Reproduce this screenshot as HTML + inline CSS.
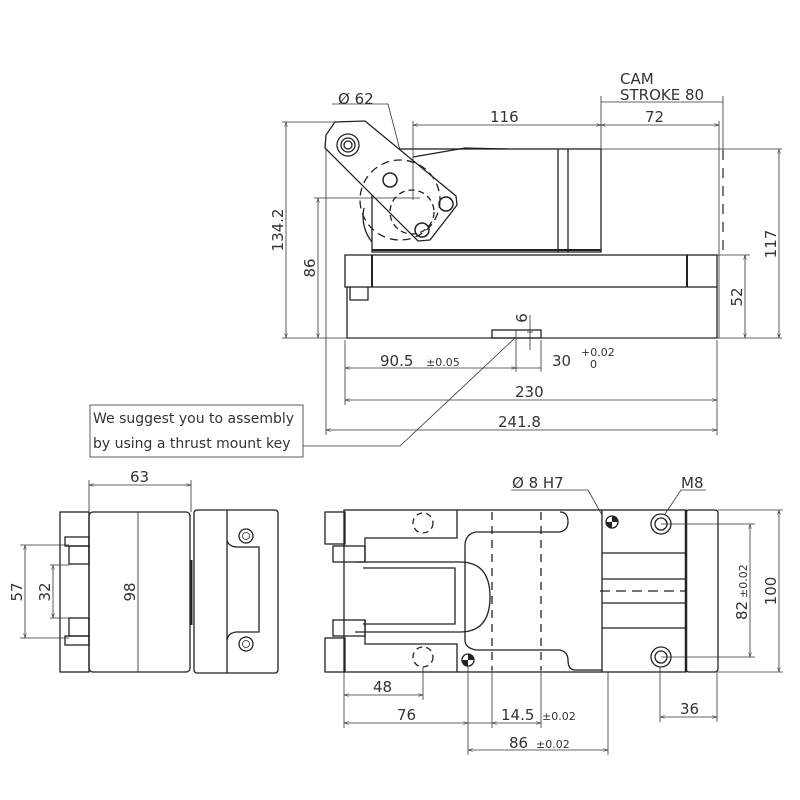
<!DOCTYPE html>
<html><head><style>
body{margin:0;background:#fff}
svg{display:block}
text{font-family:"DejaVu Sans","Liberation Sans",sans-serif;fill:#333}
</style></head><body>
<svg width="800" height="800" viewBox="0 0 800 800" xmlns="http://www.w3.org/2000/svg">
<defs>
<marker id="a" viewBox="0 0 10 10" refX="10" refY="5" markerWidth="6" markerHeight="6" orient="auto-start-reverse"><path d="M0,2 L10,5 L0,8" fill="none" stroke="#333" stroke-width="1"/></marker>
</defs>
<g fill="none" stroke="#222" stroke-width="1.3">
<!-- TOP VIEW -->
<rect x="372" y="149" width="229" height="103"/>
<line x1="558" y1="149" x2="558" y2="252"/>
<line x1="568" y1="149" x2="568" y2="252"/>
<line x1="372" y1="250" x2="601" y2="250" stroke-width="2"/>
<rect x="345" y="255" width="372" height="32"/>
<line x1="372" y1="255" x2="372" y2="287" stroke-width="2"/>
<line x1="687" y1="255" x2="687" y2="287" stroke-width="2"/>
<path d="M347 287 V338 H717 V287"/>
<path d="M350 287 V300 H368 V287"/>
<rect x="492" y="330" width="49" height="8"/>
<path d="M413 157 L465 148 L508 149"/>
<path d="M335 122 L365 121 L456 196 L457 205 L430 240 L418 241 L325 148 L326 135 Z" fill="#fff"/>
<circle cx="348" cy="145" r="11"/><circle cx="348" cy="145" r="7"/><circle cx="348" cy="145" r="4"/>
<g stroke-width="1.5"><circle cx="390" cy="180" r="7"/><circle cx="446" cy="204" r="7"/><circle cx="422" cy="230" r="7"/></g>
<circle cx="400" cy="200" r="40" stroke-dasharray="8,5"/>
<circle cx="412" cy="212" r="22" stroke-dasharray="6,4"/>
<path d="M364 208 A40 40 0 0 0 372 242" />
</g>
<g fill="none" stroke="#333" stroke-width="0.8">
<line x1="286" y1="122" x2="286" y2="338" marker-start="url(#a)" marker-end="url(#a)"/>
<line x1="282" y1="122" x2="335" y2="122"/>
<line x1="318" y1="198" x2="318" y2="338" marker-start="url(#a)" marker-end="url(#a)"/>
<line x1="314" y1="198" x2="420" y2="198"/>
<line x1="282" y1="338" x2="782" y2="338"/>
<line x1="779" y1="149" x2="779" y2="338" marker-start="url(#a)" marker-end="url(#a)"/>
<line x1="601" y1="149" x2="782" y2="149"/>
<line x1="745" y1="255" x2="745" y2="338" marker-start="url(#a)" marker-end="url(#a)"/>
<line x1="717" y1="255" x2="750" y2="255"/>
<line x1="413" y1="125" x2="601" y2="125" marker-start="url(#a)" marker-end="url(#a)"/>
<line x1="601" y1="125" x2="719" y2="125" marker-start="url(#a)" marker-end="url(#a)"/>
<line x1="413" y1="121" x2="413" y2="200"/>
<line x1="601" y1="96" x2="601" y2="149"/>
<line x1="719" y1="121" x2="719" y2="338"/>
<line x1="601" y1="102" x2="723" y2="102"/>
<line x1="723" y1="96" x2="723" y2="150"/>
<line x1="723" y1="150" x2="723" y2="250" stroke-dasharray="10,8" stroke-width="1.3"/>
<path d="M332 104 H388 L400 150"/>
<line x1="345" y1="340" x2="345" y2="405"/>
<line x1="326" y1="150" x2="326" y2="435"/>
<line x1="717" y1="340" x2="717" y2="435"/>
<line x1="516" y1="330" x2="516" y2="372"/>
<line x1="541" y1="340" x2="541" y2="372"/>
<line x1="345" y1="368" x2="516" y2="368" marker-start="url(#a)" marker-end="url(#a)"/>
<line x1="516" y1="368" x2="541" y2="368"/>
<line x1="345" y1="400" x2="717" y2="400" marker-start="url(#a)" marker-end="url(#a)"/>
<line x1="326" y1="430" x2="717" y2="430" marker-start="url(#a)" marker-end="url(#a)"/>
<line x1="530" y1="315" x2="530" y2="350"/>
<line x1="527" y1="332" x2="533" y2="332"/>
<rect x="90" y="405" width="213" height="52"/>
<path d="M303 446 L400 446 L515 338"/>
</g>
<g font-size="15">
<text x="338" y="104">Ø 62</text>
<text x="620" y="84">CAM</text>
<text x="620" y="100">STROKE 80</text>
<text x="490" y="122">116</text>
<text x="645" y="122">72</text>
<text x="380" y="366">90.5</text><text x="426" y="366" font-size="11">±0.05</text>
<text x="552" y="366">30</text><text x="581" y="356" font-size="11">+0.02</text><text x="590" y="368" font-size="11">0</text>
<text x="515" y="397">230</text>
<text x="498" y="427">241.8</text>
<text transform="translate(283,230) rotate(-90)" text-anchor="middle">134.2</text>
<text transform="translate(315,268) rotate(-90)" text-anchor="middle">86</text>
<text transform="translate(776,244) rotate(-90)" text-anchor="middle">117</text>
<text transform="translate(742,297) rotate(-90)" text-anchor="middle">52</text>
<text transform="translate(527,318) rotate(-90)" text-anchor="middle">6</text>
<text x="93" y="423" font-size="14">We suggest you to assembly</text>
<text x="93" y="448" font-size="14">by using a thrust mount key</text>
</g>
<!-- BOTTOM LEFT VIEW -->
<g fill="none" stroke="#222" stroke-width="1.3">
<rect x="60" y="512" width="29" height="160"/>
<rect x="65" y="537" width="24" height="9"/><rect x="69" y="546" width="20" height="18"/>
<rect x="69" y="618" width="20" height="18"/><rect x="65" y="636" width="24" height="9"/>
<rect x="89" y="512" width="101" height="160" rx="4"/>
<line x1="138" y1="512" x2="138" y2="672" stroke-width="0.8"/>
<line x1="191" y1="560" x2="191" y2="625" stroke-width="3"/>
<rect x="194" y="510" width="84" height="163" rx="3"/>
<line x1="227" y1="510" x2="227" y2="673"/>
<path d="M227 540 Q228 546 236 547 H259 V632 H236 Q228 633 227 640"/>
<circle cx="246" cy="536" r="7"/><circle cx="246" cy="644" r="7"/>
<circle cx="246" cy="536" r="3.5" stroke-width="0.8"/><circle cx="246" cy="644" r="3.5" stroke-width="0.8"/>
</g>
<g fill="none" stroke="#333" stroke-width="0.8">
<line x1="89" y1="480" x2="89" y2="512"/><line x1="191" y1="480" x2="191" y2="512"/>
<line x1="89" y1="485" x2="191" y2="485" marker-start="url(#a)" marker-end="url(#a)"/>
<line x1="25" y1="545" x2="25" y2="638" marker-start="url(#a)" marker-end="url(#a)"/>
<line x1="20" y1="545" x2="69" y2="545"/><line x1="20" y1="638" x2="69" y2="638"/>
<line x1="53" y1="565" x2="53" y2="618" marker-start="url(#a)" marker-end="url(#a)"/>
<line x1="50" y1="565" x2="69" y2="565"/><line x1="50" y1="618" x2="69" y2="618"/>
</g>
<g font-size="15">
<text x="130" y="482">63</text>
<text transform="translate(22,592) rotate(-90)" text-anchor="middle">57</text>
<text transform="translate(50,592) rotate(-90)" text-anchor="middle">32</text>
<text transform="translate(135,592) rotate(-90)" text-anchor="middle">98</text>
</g>
<!-- BOTTOM RIGHT VIEW -->
<g fill="none" stroke="#222" stroke-width="1.3">
<rect x="344" y="510" width="342" height="162"/>
<rect x="686" y="510" width="32" height="162" rx="3"/>
<line x1="686" y1="510" x2="686" y2="672" stroke-width="2.5"/>
<rect x="325" y="512" width="20" height="32"/><rect x="333" y="546" width="32" height="16"/>
<rect x="333" y="620" width="32" height="16"/><rect x="325" y="638" width="20" height="34"/>
<line x1="602" y1="510" x2="602" y2="672"/>
<path d="M602 553 H686 M602 579 H686 M602 603 H686 M602 628 H686"/>
<path d="M365 562 V538 H457 V510 M365 620 V644 H457 V672"/>
<path d="M457 538 L457 538"/>
<path d="M355 562 H460 Q490 562 490 597 Q490 632 460 632 H355"/>
<path d="M363 568 H455 V624 H363"/>
<path d="M560 512 Q568 512 568 522 Q568 530 560 532 H476 Q465 534 465 546 V640 Q465 648 476 650 H560 Q568 652 568 660 Q568 670 575 670 H602"/>
<circle cx="661" cy="524" r="10"/><circle cx="661" cy="524" r="6"/>
<circle cx="661" cy="657" r="10"/><circle cx="661" cy="657" r="6"/>
<circle cx="612" cy="522" r="6"/><circle cx="468" cy="660" r="6"/>
<circle cx="423" cy="523" r="10" stroke-dasharray="6,4"/><circle cx="423" cy="657" r="10" stroke-dasharray="6,4"/>
<line x1="492" y1="512" x2="492" y2="670" stroke-dasharray="8,6"/>
<line x1="541" y1="512" x2="541" y2="670" stroke-dasharray="8,6"/>
<line x1="600" y1="591" x2="686" y2="591" stroke-dasharray="10,6"/>
</g>
<path d="M612 516 A6 6 0 0 1 618 522 H612 Z M612 522 V528 A6 6 0 0 1 606 522 Z" fill="#222"/>
<path d="M468 654 A6 6 0 0 1 474 660 H468 Z M468 660 V666 A6 6 0 0 1 462 660 Z" fill="#222"/>
<g fill="none" stroke="#333" stroke-width="0.8">
<path d="M511 490 H588 L602 515"/>
<path d="M706 490 H681 L665 514"/>
<line x1="344" y1="672" x2="344" y2="728"/>
<line x1="423" y1="667" x2="423" y2="700"/>
<line x1="468" y1="666" x2="468" y2="755"/>
<line x1="492" y1="670" x2="492" y2="728"/>
<line x1="541" y1="670" x2="541" y2="728"/>
<line x1="608" y1="672" x2="608" y2="755"/>
<line x1="660" y1="667" x2="660" y2="722"/>
<line x1="717" y1="672" x2="717" y2="722"/>
<line x1="344" y1="695" x2="423" y2="695" marker-start="url(#a)" marker-end="url(#a)"/>
<line x1="344" y1="723" x2="468" y2="723" marker-start="url(#a)" marker-end="url(#a)"/>
<line x1="468" y1="723" x2="492" y2="723"/>
<line x1="492" y1="723" x2="541" y2="723" marker-start="url(#a)" marker-end="url(#a)"/>
<line x1="468" y1="750" x2="608" y2="750" marker-start="url(#a)" marker-end="url(#a)"/>
<line x1="660" y1="717" x2="717" y2="717" marker-start="url(#a)" marker-end="url(#a)"/>
<line x1="750" y1="524" x2="750" y2="657" marker-start="url(#a)" marker-end="url(#a)"/>
<line x1="661" y1="524" x2="755" y2="524"/><line x1="661" y1="657" x2="755" y2="657"/>
<line x1="779" y1="510" x2="779" y2="672" marker-start="url(#a)" marker-end="url(#a)"/>
<line x1="718" y1="510" x2="783" y2="510"/><line x1="718" y1="672" x2="783" y2="672"/>
</g>
<g font-size="15">
<text x="512" y="488">Ø 8 H7</text>
<text x="681" y="488">M8</text>
<text x="373" y="692">48</text>
<text x="397" y="720">76</text>
<text x="501" y="720">14.5</text><text x="542" y="720" font-size="11">±0.02</text>
<text x="509" y="748">86</text><text x="536" y="748" font-size="11">±0.02</text>
<text x="680" y="714">36</text>
<text transform="translate(747,620) rotate(-90)">82</text>
<text transform="translate(747,598) rotate(-90)" font-size="11">±0.02</text>
<text transform="translate(776,591) rotate(-90)" text-anchor="middle">100</text>
</g>
</svg>
</body></html>
